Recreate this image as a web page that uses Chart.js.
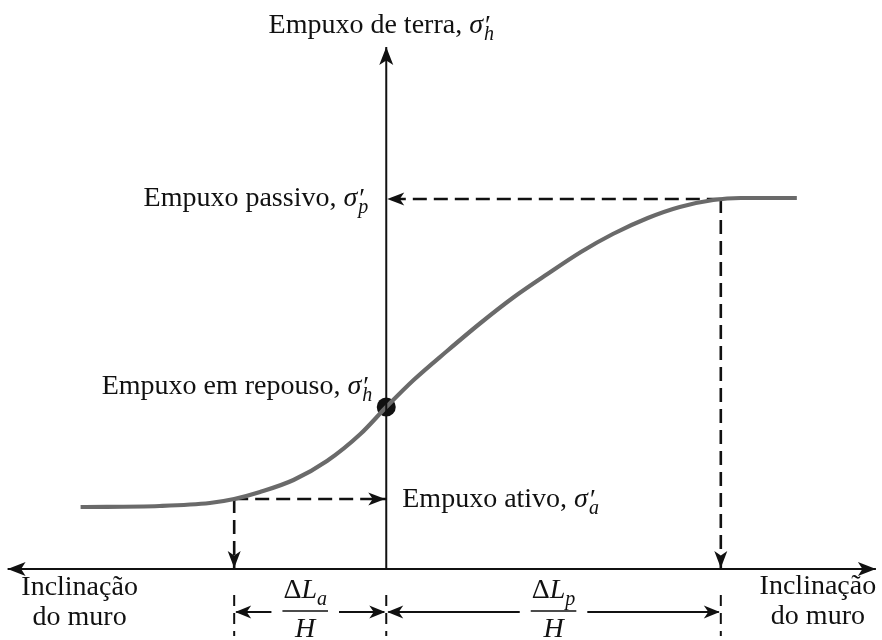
<!DOCTYPE html>
<html>
<head>
<meta charset="utf-8">
<script src="https://cdn.jsdelivr.net/npm/chart.js@4/dist/chart.umd.min.js"></script>
<style>
  html, body { margin: 0; padding: 0; background: #ffffff; }
  #wrap { width: 882px; height: 640px; }
</style>
</head>
<body>
<div id="wrap"><canvas id="c" width="882" height="640"></canvas></div>
<script>
// ---- Data (arbitrary units; x: wall tilt, ΔLa/H = 1; y: earth pressure) ----
const curveTilt     = [-2.01, -1.49, -1.16, -1.00, -0.83, -0.61, -0.39, -0.17, 0.00, 0.18, 0.40, 0.62, 0.84, 1.06, 1.28, 1.49, 1.72, 1.93, 2.15, 2.33, 2.70];
const curvePressure = [ 0.62,  0.63,  0.66,  0.70,  0.77,  0.89,  1.08,  1.35, 1.62, 1.89, 2.18, 2.46, 2.72, 2.95, 3.17, 3.35, 3.51, 3.62, 3.69, 3.71, 3.71];

const stateNames    = ['ativo', 'repouso', 'passivo'];
const stateTilt     = [-1.00, 0.00, 2.20];
const statePressure = [ 0.70, 1.62, 3.70];

const axisTiltRange   = [-2.49, 3.22];
const axisPressureTop = 5.22;
const viewTilt        = [-2.54, 3.26];
const viewPressure    = [-0.71, 5.69];
const dimRow          = [-0.26, -0.43, -0.67];   // tick top, arrow level, tick bottom

const yAxisTitle   = ['Empuxo de terra, ', 'h'];
const passiveLabel = ['Empuxo passivo, ', 'p'];
const restLabel    = ['Empuxo em repouso, ', 'h'];
const activeLabel  = ['Empuxo ativo, ', 'a'];
const xAxisLabel   = ['Inclinação', 'do muro'];
const dimLabels    = [['a', 'H'], ['p', 'H']];

// ---- helpers ----
const FONT = "'Liberation Serif', 'Times New Roman', serif";
const FS = 28;
const INK = '#111111';
const pts = (xs, ys) => xs.map((x, i) => ({ x: x, y: ys[i] }));
const seg = (x0, y0, x1, y1) => [{ x: x0, y: y0 }, { x: x1, y: y1 }];

function lineDs(data, opts) {
  return Object.assign({
    data: data, showLine: true, borderColor: INK, borderWidth: 2,
    pointRadius: 0, fill: false, clip: false, tension: 0
  }, opts || {});
}
const DASH = { borderDash: [14, 7], borderWidth: 2.6 };

const ia = 0, ir = 1, ip = 2;
const datasets = [
  lineDs(seg(axisTiltRange[0], 0, axisTiltRange[1], 0)),
  lineDs(seg(0, 0, 0, axisPressureTop)),
  lineDs(pts(curveTilt, curvePressure), { borderColor: '#6a6a6a', borderWidth: 4.2, cubicInterpolationMode: 'monotone' }),
  lineDs(seg(stateTilt[ia], statePressure[ia], stateTilt[ir], statePressure[ia]), DASH),
  lineDs(seg(stateTilt[ia], statePressure[ia], stateTilt[ia], 0), DASH),
  lineDs(seg(stateTilt[ip], statePressure[ip], stateTilt[ir], statePressure[ip]), DASH),
  lineDs(seg(stateTilt[ip], statePressure[ip], stateTilt[ip], 0), DASH),
];
stateTilt.forEach(t => datasets.push(lineDs(seg(t, dimRow[0], t, dimRow[2]), { borderDash: [11, 7], borderWidth: 2 })));
datasets.push({ data: [{ x: stateTilt[ir], y: statePressure[ir] }], pointRadius: 9.5, pointBackgroundColor: INK, pointBorderWidth: 0, showLine: false, clip: false });

function arrow(ctx, x, y, ang, len, hw) {
  len = len || 17; hw = hw || 6.5;
  ctx.save();
  ctx.translate(x, y); ctx.rotate(ang);
  ctx.beginPath();
  ctx.moveTo(0, 0);
  ctx.lineTo(-len, -hw);
  ctx.lineTo(-len + 4.5, 0);
  ctx.lineTo(-len, hw);
  ctx.closePath();
  ctx.fillStyle = INK; ctx.fill();
  ctx.restore();
}

// parts: {t, it, size, dy, dx, stack}
function richLayout(ctx, parts) {
  let x = 0; const out = [];
  for (const p of parts) {
    ctx.font = (p.it ? 'italic ' : '') + (p.size || FS) + 'px ' + FONT;
    const w = ctx.measureText(p.t).width;
    out.push(Object.assign({ x: x + (p.dx || 0), w: w }, p));
    if (!p.stack) x += w + (p.dx || 0);
  }
  return { parts: out, width: x };
}
function drawRich(ctx, parts, x, y, align) {
  const L = richLayout(ctx, parts);
  let x0 = x;
  if (align === 'right') x0 = x - L.width;
  else if (align === 'center') x0 = x - L.width / 2;
  ctx.fillStyle = INK; ctx.textAlign = 'left'; ctx.textBaseline = 'alphabetic';
  for (const p of L.parts) {
    ctx.font = (p.it ? 'italic ' : '') + (p.size || FS) + 'px ' + FONT;
    ctx.fillText(p.t, x0 + p.x, y + (p.dy || 0));
  }
  return L.width;
}
function sigma(label) {
  return [
    { t: label[0] },
    { t: 'σ', it: true },
    { t: '′', size: 27, dy: 1, dx: 2, stack: true },
    { t: label[1], it: true, size: 20, dy: 7, dx: 1 }
  ];
}

const annot = {
  id: 'annot',
  afterDatasetsDraw(chart) {
    const ctx = chart.ctx, X = chart.scales.x, Y = chart.scales.y;
    const px = v => X.getPixelForValue(v), py = v => Y.getPixelForValue(v);
    const x0 = px(0), y0 = py(0);
    ctx.save();
    // axis arrowheads
    arrow(ctx, px(axisTiltRange[0]), y0, Math.PI, 18, 7);
    arrow(ctx, px(axisTiltRange[1]), y0, 0, 18, 7);
    arrow(ctx, x0, py(axisPressureTop), -Math.PI / 2, 18, 7);
    // dashed-line arrowheads
    arrow(ctx, x0 - 1, py(statePressure[ia]), 0);
    arrow(ctx, px(stateTilt[ia]), y0 - 1, Math.PI / 2);
    arrow(ctx, x0 + 1, py(statePressure[ip]), Math.PI);
    arrow(ctx, px(stateTilt[ip]), y0 - 1, Math.PI / 2);

    // labels
    drawRich(ctx, sigma(yAxisTitle), x0 - 5, py(axisPressureTop) - 14, 'center');
    drawRich(ctx, sigma(passiveLabel), x0 - 18, py(statePressure[ip]) + 7, 'right');
    drawRich(ctx, sigma(restLabel), x0 - 14, py(statePressure[ir]) - 13, 'right');
    drawRich(ctx, sigma(activeLabel), x0 + 16, py(statePressure[ia]) + 8, 'left');

    ctx.fillStyle = INK; ctx.textAlign = 'center'; ctx.textBaseline = 'alphabetic';
    ctx.font = FS + 'px ' + FONT;
    const lx = px(axisTiltRange[0]) + 72, rx = px(axisTiltRange[1]) - 58;
    ctx.fillText(xAxisLabel[0], lx, y0 + 26); ctx.fillText(xAxisLabel[1], lx, y0 + 56);
    ctx.fillText(xAxisLabel[0], rx, y0 + 25); ctx.fillText(xAxisLabel[1], rx, y0 + 55);

    // dimension arrows with fractions
    const ay = py(dimRow[1]);
    [[ia, ir], [ir, ip]].forEach((pair, k) => {
      const a = px(stateTilt[pair[0]]), b = px(stateTilt[pair[1]]);
      const cx = (a + b) / 2 + (k === 0 ? -5 : 0);
      const parts = [{ t: 'Δ' }, { t: 'L', it: true }, { t: dimLabels[k][0], it: true, size: 20, dy: 7 }];
      const w = richLayout(ctx, parts).width;
      drawRich(ctx, parts, cx, ay - 14, 'center');
      ctx.font = 'italic ' + FS + 'px ' + FONT; ctx.textAlign = 'center'; ctx.fillStyle = INK;
      ctx.fillText(dimLabels[k][1], cx, ay + 25);
      ctx.strokeStyle = INK; ctx.lineWidth = 1.6;
      ctx.beginPath(); ctx.moveTo(cx - w / 2 - 1, ay - 1); ctx.lineTo(cx + w / 2 + 1, ay - 1); ctx.stroke();
      const gap = w / 2 + 12;
      ctx.lineWidth = 1.8;
      ctx.beginPath();
      ctx.moveTo(a + 2, ay); ctx.lineTo(cx - gap, ay);
      ctx.moveTo(cx + gap, ay); ctx.lineTo(b - 2, ay);
      ctx.stroke();
      arrow(ctx, a + 1, ay, Math.PI, 16, 6.5);
      arrow(ctx, b - 1, ay, 0, 16, 6.5);
    });
    ctx.restore();
  }
};

new Chart(document.getElementById('c'), {
  type: 'scatter',
  data: { datasets: datasets },
  options: {
    responsive: false, animation: false, devicePixelRatio: 1,
    layout: { padding: 0, autoPadding: false },
    plugins: { legend: { display: false }, tooltip: { enabled: false }, title: { display: false } },
    events: [],
    scales: {
      x: { type: 'linear', display: false, min: viewTilt[0], max: viewTilt[1] },
      y: { type: 'linear', display: false, min: viewPressure[0], max: viewPressure[1] }
    }
  },
  plugins: [annot]
});
</script>
</body>
</html>
